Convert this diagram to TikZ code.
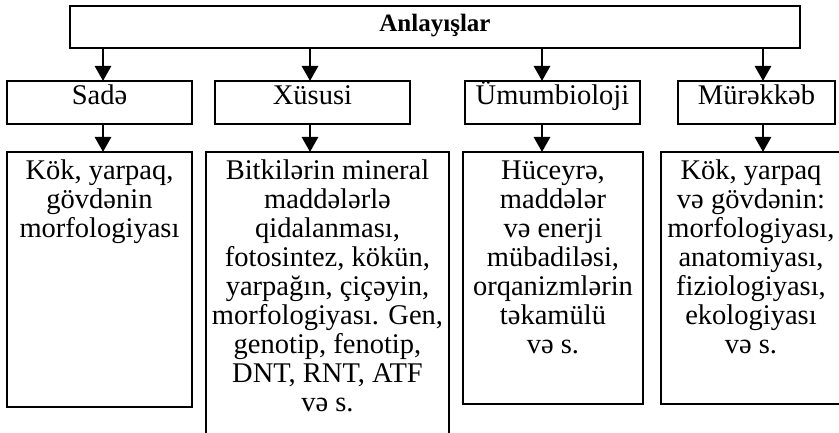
\documentclass[tikz,border=0pt]{standalone}
\usepackage{fontspec}
\setmainfont{Liberation Serif}
\usetikzlibrary{arrows.meta}
\begin{document}
\begin{tikzpicture}[x=1pt,y=-1pt,
  box/.style={draw, line width=1.6pt, inner sep=0pt, outer sep=0pt, anchor=north west},
  lab/.style={font=\fontsize{28.5}{29}\selectfont, text height=19pt, text depth=14pt},
  body/.style={font=\fontsize{28.5}{29}\selectfont, align=center, inner sep=0pt, anchor=north},
  arr/.style={line width=2.8pt, -{Triangle[length=15pt,width=16pt]}}]
\useasboundingbox (0,0) rectangle (839,433);
% top
\node[box, minimum width=730pt, minimum height=42pt, font=\fontsize{25}{29}\selectfont\bfseries, text height=18pt, text depth=8pt] (top) at (70,6) {Anlayışlar};
% level 2
\node[box, lab, minimum width=185pt, minimum height=43pt] (sade) at (7,81) {Sadə};
\node[box, lab, minimum width=195pt, minimum height=43pt] (xususi) at (215,81) {Xüsusi};
\node[box, lab, minimum width=175pt, minimum height=43pt] (umum) at (465,81) {Ümumbioloji};
\node[box, lab, minimum width=157pt, minimum height=43pt] (mur) at (678,81) {Mürəkkəb};
% level 3 boxes
\node[box, minimum width=185pt, minimum height=255pt] (sadeB) at (7,152) {};
\node[box, minimum width=243pt, minimum height=300pt] (xususiB) at (206,152) {};
\node[box, minimum width=180pt, minimum height=252pt] (umumB) at (463,152) {};
\node[box, minimum width=182pt, minimum height=252pt] (murB) at (661,152) {};
% level 3 texts
\node[body] (sadeT) at ([yshift=-7pt]sadeB.north) {\strut Kök, yarpaq,\\gövdənin\\morfologiyası};
\node[body] (xususiT) at ([yshift=-7pt]xususiB.north) {\strut Bitkilərin mineral\\maddələrlə\\qidalanması,\\fotosintez, kökün,\\yarpağın, çiçəyin,\\morfologiyası. Gen,\\genotip, fenotip,\\DNT, RNT, ATF\\və s.};
\node[body] (umumT) at ([yshift=-7pt]umumB.north) {\strut Hüceyrə,\\maddələr\\və enerji\\mübadiləsi,\\orqanizmlərin\\təkamülü\\və s.};
\node[body] (murT) at ([xshift=-1pt,yshift=-7pt]murB.north) {\strut Kök, yarpaq\\və gövdənin:\\morfologiyası,\\anatomiyası,\\fiziologiyası,\\ekologiyası\\və s.};
% arrows
\draw[arr] (top.south -| 103,0) -- (sade.north -| 103,0);
\draw[arr] (top.south -| 310,0) -- (xususi.north -| 310,0);
\draw[arr] (top.south -| 542,0) -- (umum.north -| 542,0);
\draw[arr] (top.south -| 763,0) -- (mur.north -| 763,0);
\draw[arr] (sade.south -| 103,0) -- (sadeB.north -| 103,0);
\draw[arr] (xususi.south -| 310,0) -- (xususiB.north -| 310,0);
\draw[arr] (umum.south -| 542,0) -- (umumB.north -| 542,0);
\draw[arr] (mur.south -| 763,0) -- (murB.north -| 763,0);
\end{tikzpicture}
\end{document}
